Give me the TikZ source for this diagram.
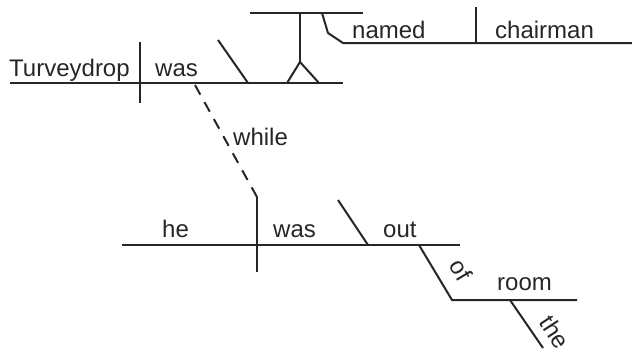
\documentclass[tikz,border=0pt]{standalone}
\usepackage{fontspec}
\setmainfont{Liberation Sans}
\begin{document}
\begin{tikzpicture}[x=1pt,y=-1pt,
  ln/.style={line width=2pt,draw=black!85},
  wd/.style={inner sep=0pt,anchor=base west,font=\fontsize{24}{26}\selectfont,text=black!85},
  sl/.style={inner sep=0pt,font=\fontsize{24}{26}\selectfont,text=black!85}]
\useasboundingbox (0,0) rectangle (632,359);
% upper clause
\coordinate (m1) at (10,83);  \coordinate (m2) at (343,83);
\coordinate (d1) at (140,42); \coordinate (d2) at (140,103);
\coordinate (s1) at (218,40); \coordinate (s2) at (248,83);
\coordinate (t1) at (250,13); \coordinate (t2) at (363,13);
\coordinate (p1) at (300,13); \coordinate (p2) at (300,62);
\coordinate (f1) at (287,83); \coordinate (f2) at (319,83);
\coordinate (h1) at (322,13); \coordinate (h2) at (328,33); \coordinate (h3) at (343,43);
\coordinate (n2) at (632,43);
\coordinate (v1) at (476,7);  \coordinate (v2) at (476,43);
\draw[ln] (m1) -- (m2);
\draw[ln] (d1) -- (d2);
\draw[ln] (s1) -- (s2);
\draw[ln] (t1) -- (t2);
\draw[ln] (p1) -- (p2);
\draw[ln] (f1) -- (p2) -- (f2);
\draw[ln] (h1) -- (h2) -- (h3) -- (n2);
\draw[ln] (v1) -- (v2);
\node[wd] (turv) at (9,76) {Turveydrop};
\node[wd] (was1) at (155,76) {was};
\node[wd] (named) at (352,38) {named};
\node[wd] (chair) at (495,38) {chairman};
% connector
\coordinate (c1) at (195,85); \coordinate (c2) at (257,197);
\draw[ln,dash pattern=on 11pt off 8.5pt] (c1) -- (c2);
\node[wd] (while) at (233,145) {while};
% lower clause
\coordinate (l1) at (122,245); \coordinate (l2) at (460,245);
\coordinate (c3) at (257,272);
\coordinate (o1) at (338,200); \coordinate (o2) at (368,245);
\coordinate (q1) at (419,245); \coordinate (q2) at (452,300); \coordinate (q3) at (577,300);
\coordinate (e1) at (510,300); \coordinate (e2) at (543,348);
\draw[ln] (l1) -- (l2);
\draw[ln] (c2) -- (c3);
\draw[ln] (o1) -- (o2);
\draw[ln] (q1) -- (q2) -- (q3);
\draw[ln] (e1) -- (e2);
\node[wd] (he) at (162,237) {he};
\node[wd] (was2) at (273,237) {was};
\node[wd] (out) at (383,237) {out};
\node[wd] (room) at (497,290) {room};
\node[sl,rotate=-59] (of) at (461,270) {of};
\node[sl,rotate=-57] (the) at (555,332) {the};
\end{tikzpicture}
\end{document}
